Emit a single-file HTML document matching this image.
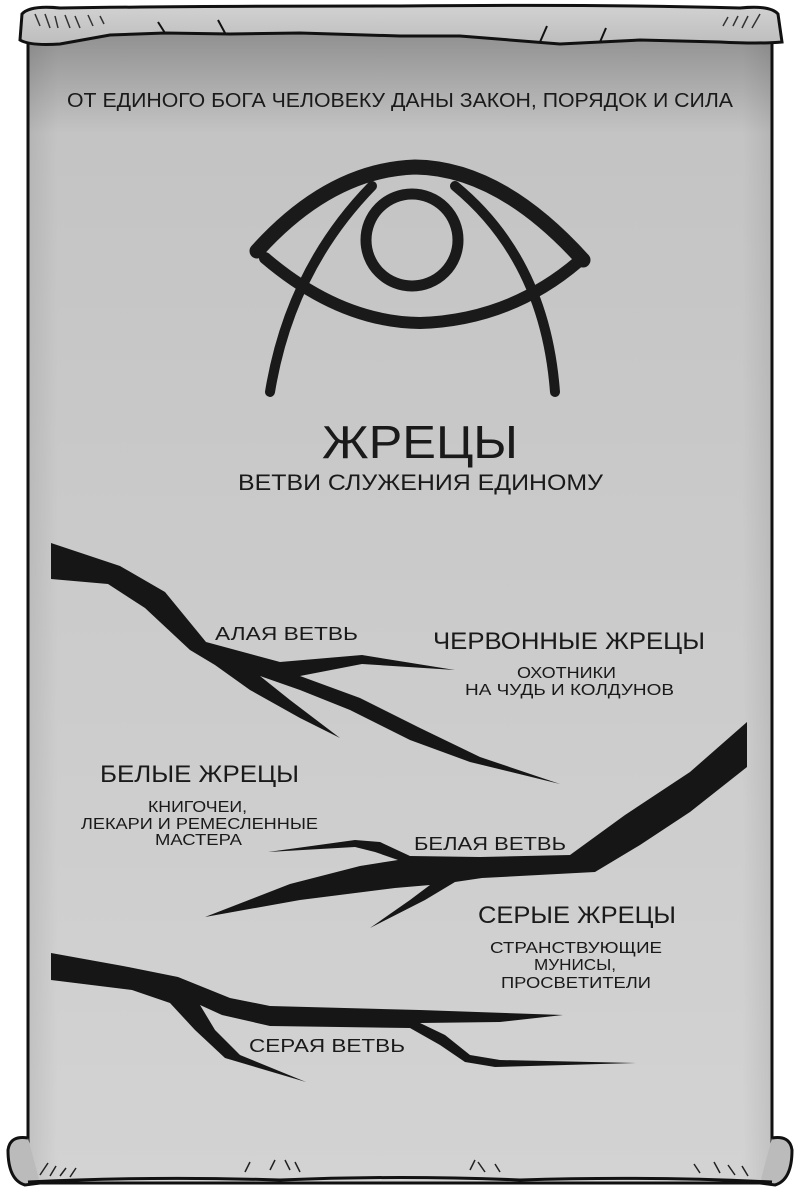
<!DOCTYPE html>
<html><head><meta charset="utf-8"><style>
html,body{margin:0;padding:0;background:#fff;}
svg{display:block;}
text{font-family:"Liberation Sans",sans-serif;fill:#1a1a1a;}
</style></head><body>
<svg width="800" height="1193" viewBox="0 0 800 1193" xmlns="http://www.w3.org/2000/svg">
<defs>
<linearGradient id="bg" x1="0" y1="0" x2="0" y2="1">
<stop offset="0" stop-color="#8f8f8f"/>
<stop offset="0.09" stop-color="#c4c4c4"/>
<stop offset="0.5" stop-color="#cbcbcb"/>
<stop offset="1" stop-color="#d3d3d3"/>
</linearGradient>
<linearGradient id="side" x1="0" y1="0" x2="1" y2="0">
<stop offset="0" stop-color="#000" stop-opacity="0.08"/>
<stop offset="0.04" stop-color="#000" stop-opacity="0"/>
<stop offset="0.96" stop-color="#000" stop-opacity="0"/>
<stop offset="1" stop-color="#000" stop-opacity="0.08"/>
</linearGradient>
<linearGradient id="roll" x1="0" y1="0" x2="0" y2="1">
<stop offset="0" stop-color="#d2d2d2"/>
<stop offset="1" stop-color="#bdbdbd"/>
</linearGradient>
</defs>
<path d="M28,30 L772,30 L772,1183 L28,1183 Z" fill="url(#bg)" stroke="#111" stroke-width="3"/>
<rect x="28" y="30" width="744" height="1153" fill="url(#side)"/>
<path d="M22,14 Q30,5 60,8 Q200,6 400,6 Q600,4 740,8 Q770,5 778,14 L782,42 Q760,44 720,42 L640,40 L560,44 L460,36 L400,36 L300,33 L230,34 L165,33 L110,35 L60,44 Q30,46 20,40 Z" fill="url(#roll)" stroke="#111" stroke-width="3"/>
<path d="M165,33 L158,22 M225,33 L218,20 M540,42 L547,26 M600,42 L606,28" stroke="#111" stroke-width="2" fill="none"/>
<path d="M35,14 L40,26 M45,14 L50,28 M55,16 L58,28 M65,15 L70,28 M75,16 L80,28 M88,15 L93,26 M100,16 L104,24 M760,14 L752,28 M748,16 L742,28 M738,16 L733,26 M728,17 L723,26" stroke="#333" stroke-width="1.5"/>
<path d="M28,1138 Q10,1135 8,1150 Q8,1180 25,1185 L40,1183" fill="#bbb" stroke="#111" stroke-width="3"/>
<path d="M772,1138 Q790,1135 792,1150 Q792,1180 775,1185 L760,1183" fill="#bbb" stroke="#111" stroke-width="3"/>
<path d="M28,1182 Q150,1176 280,1180 Q400,1175 520,1180 Q650,1176 772,1182" fill="none" stroke="#111" stroke-width="3"/>
<path d="M40,1175 L48,1163 M50,1176 L56,1166 M60,1176 L66,1168 M70,1177 L76,1168 M245,1172 L250,1162 M270,1170 L275,1160 M290,1170 L285,1160 M300,1172 L295,1162 M470,1170 L475,1160 M485,1172 L478,1162 M500,1172 L495,1164 M700,1173 L694,1164 M720,1173 L714,1162 M735,1175 L728,1165 M748,1176 L742,1166" stroke="#222" stroke-width="1.5"/>

<text x="67" y="107" font-size="20" textLength="666" lengthAdjust="spacingAndGlyphs">ОТ ЕДИНОГО БОГА ЧЕЛОВЕКУ ДАНЫ ЗАКОН, ПОРЯДОК И СИЛА</text>

<g fill="none" stroke="#1a1a1a" stroke-linecap="round">
<path d="M257,251 Q330,170 415,167 Q500,168 583,260" stroke-width="15"/>
<path d="M265,258 Q340,322 420,323 Q510,320 578,262" stroke-width="12"/>
<circle cx="412" cy="240" r="46" stroke-width="11"/>
<path d="M372,186 Q290,270 270,392" stroke-width="10"/>
<path d="M455,186 Q545,260 555,392" stroke-width="10"/>
</g>

<text x="322" y="458" font-size="46" textLength="196" lengthAdjust="spacingAndGlyphs">ЖРЕЦЫ</text>
<text x="238" y="490" font-size="22" textLength="365" lengthAdjust="spacingAndGlyphs">ВЕТВИ СЛУЖЕНИЯ ЕДИНОМУ</text>

<g fill="#161616">
<polygon points="51,543 120,566 165,592 206,642 280,662 362,655 455,670 362,664 300,676 360,698 420,728 480,757 560,784 470,762 410,740 350,710 300,690 260,676 290,700 340,738 300,718 250,690 215,665 190,650 145,608 108,584 51,579"/>
<polygon points="747,722 747,767 690,812 640,845 595,872 482,878 455,882 425,900 370,928 410,900 430,885 395,888 300,900 205,917 290,884 360,866 398,860 375,852 355,847 268,852 355,840 380,842 410,856 480,857 570,855 625,815 690,772"/>
<polygon points="51,953 123,966 178,977 230,998 270,1006 420,1010 563,1015 500,1022 420,1023 445,1035 470,1055 500,1060 637,1063 495,1067 465,1062 440,1045 410,1028 270,1026 222,1015 200,1005 215,1030 240,1055 306,1082 225,1058 195,1030 170,1003 132,990 51,980"/>
</g>

<text x="215" y="640" font-size="18" textLength="143" lengthAdjust="spacingAndGlyphs">АЛАЯ ВЕТВЬ</text>
<text x="433" y="649" font-size="24" textLength="272" lengthAdjust="spacingAndGlyphs">ЧЕРВОННЫЕ ЖРЕЦЫ</text>
<text x="517" y="678" font-size="16" textLength="99" lengthAdjust="spacingAndGlyphs">ОХОТНИКИ</text>
<text x="465" y="695" font-size="16" textLength="209" lengthAdjust="spacingAndGlyphs">НА ЧУДЬ И КОЛДУНОВ</text>

<text x="100" y="782" font-size="24" textLength="199" lengthAdjust="spacingAndGlyphs">БЕЛЫЕ ЖРЕЦЫ</text>
<text x="148" y="812" font-size="16" textLength="99" lengthAdjust="spacingAndGlyphs">КНИГОЧЕИ,</text>
<text x="81" y="829" font-size="16" textLength="237" lengthAdjust="spacingAndGlyphs">ЛЕКАРИ И РЕМЕСЛЕННЫЕ</text>
<text x="155" y="845" font-size="16" textLength="87" lengthAdjust="spacingAndGlyphs">МАСТЕРА</text>
<text x="414" y="850" font-size="18" textLength="152" lengthAdjust="spacingAndGlyphs">БЕЛАЯ ВЕТВЬ</text>

<text x="478" y="923" font-size="24" textLength="198" lengthAdjust="spacingAndGlyphs">СЕРЫЕ ЖРЕЦЫ</text>
<text x="490" y="953" font-size="16" textLength="172" lengthAdjust="spacingAndGlyphs">СТРАНСТВУЮЩИЕ</text>
<text x="534" y="970" font-size="16" textLength="82" lengthAdjust="spacingAndGlyphs">МУНИСЫ,</text>
<text x="501" y="988" font-size="16" textLength="150" lengthAdjust="spacingAndGlyphs">ПРОСВЕТИТЕЛИ</text>
<text x="249" y="1052" font-size="18" textLength="156" lengthAdjust="spacingAndGlyphs">СЕРАЯ ВЕТВЬ</text>
</svg>
</body></html>
